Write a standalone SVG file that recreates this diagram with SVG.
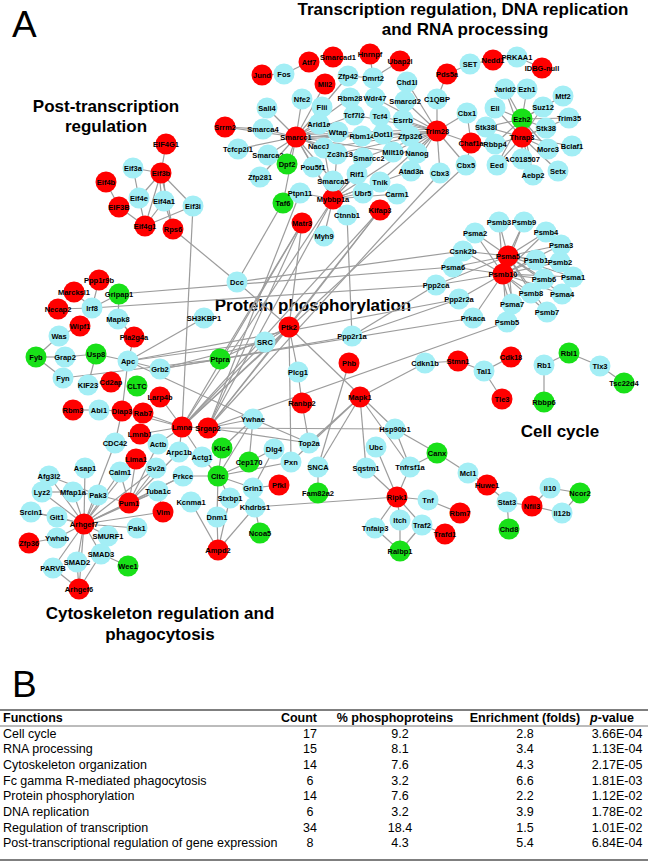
<svg xmlns="http://www.w3.org/2000/svg" width="650" height="862" viewBox="0 0 650 862">
<style>
.e line{stroke:#9c9c9c;stroke-width:1.2}
.nd circle{r:10.5px}
.r circle{fill:#ff0000}
.c circle{fill:#a3eef5}
.g circle{fill:#18e018}
.nd text{font-family:"Liberation Sans",Arial,sans-serif;font-weight:bold;font-size:7.5px;text-anchor:middle;fill:#000}
.sec{font-family:"Liberation Sans",Arial,sans-serif;font-weight:bold;font-size:17px;text-anchor:middle;fill:#000}
.big{font-family:"Liberation Sans",Arial,sans-serif;font-size:37px;fill:#000}
.tb{font-family:"Liberation Sans",Arial,sans-serif;font-size:12.5px;fill:#000}
.th{font-family:"Liberation Sans",Arial,sans-serif;font-size:12.5px;font-weight:bold;fill:#000}
.m{text-anchor:middle}
</style>
<rect width="650" height="862" fill="#fff"/>
<text class="big" x="12" y="37">A</text>
<text class="sec" x="463" y="15">Transcription regulation, DNA replication</text>
<text class="sec" x="465" y="35">and RNA processing</text>
<text class="sec" x="106" y="112">Post-transcription</text>
<text class="sec" x="106" y="132">regulation</text>
<text class="sec" x="313" y="311">Protein phosphorylation</text>
<text class="sec" x="560" y="437">Cell cycle</text>
<text class="sec" x="160" y="619">Cytoskeleton regulation and</text>
<text class="sec" x="160" y="640">phagocytosis</text>

<g id="connectors" class="e">
<line x1="166" y1="144" x2="161" y2="173"/><line x1="133" y1="168" x2="161" y2="173"/><line x1="133" y1="168" x2="139" y2="198"/><line x1="106" y1="182" x2="119" y2="207"/><line x1="161" y1="173" x2="139" y2="198"/><line x1="159" y1="173" x2="162" y2="201"/><line x1="163" y1="173" x2="166" y2="201"/><line x1="161" y1="173" x2="193" y2="206"/><line x1="161" y1="173" x2="145" y2="226"/><line x1="161" y1="173" x2="173" y2="229"/><line x1="139" y1="198" x2="145" y2="226"/><line x1="164" y1="201" x2="145" y2="226"/><line x1="164" y1="201" x2="173" y2="229"/><line x1="119" y1="207" x2="145" y2="226"/><line x1="193" y1="206" x2="145" y2="226"/><line x1="173" y1="229" x2="237" y2="282"/><line x1="193" y1="206" x2="182" y2="427"/>
<line x1="92" y1="308" x2="99" y2="280"/><line x1="92" y1="308" x2="74" y2="292"/><line x1="92" y1="308" x2="58" y2="309"/><line x1="92" y1="308" x2="119" y2="294"/><line x1="119" y1="294" x2="118" y2="319"/><line x1="118" y1="319" x2="134" y2="337"/><line x1="134" y1="337" x2="128" y2="361"/><line x1="59" y1="336" x2="36" y2="357"/><line x1="59" y1="336" x2="80" y2="326"/><line x1="36" y1="357" x2="65" y2="357"/><line x1="36" y1="357" x2="63" y2="378"/><line x1="65" y1="357" x2="96" y2="354"/><line x1="96" y1="354" x2="88" y2="385"/><line x1="96" y1="354" x2="128" y2="361"/><line x1="128" y1="361" x2="160" y2="369"/><line x1="128" y1="361" x2="204" y2="318"/><line x1="128" y1="361" x2="122" y2="411"/><line x1="128" y1="361" x2="253" y2="419"/><line x1="128" y1="361" x2="265" y2="342"/><line x1="160" y1="369" x2="220" y2="359"/><line x1="160" y1="369" x2="265" y2="342"/><line x1="63" y1="378" x2="220" y2="359"/><line x1="119" y1="294" x2="453" y2="267"/><line x1="92" y1="308" x2="436" y2="285"/><line x1="128" y1="361" x2="459" y2="299"/><line x1="160" y1="369" x2="473" y2="318"/><line x1="237" y1="282" x2="463" y2="251"/><line x1="237" y1="282" x2="289" y2="327"/><line x1="282" y1="204" x2="237" y2="282"/><line x1="160" y1="397" x2="182" y2="427"/>
<line x1="182" y1="427" x2="302" y2="223"/><line x1="182" y1="427" x2="333" y2="199"/><line x1="182" y1="427" x2="380" y2="210"/><line x1="182" y1="427" x2="289" y2="327"/><line x1="182" y1="427" x2="265" y2="342"/><line x1="208" y1="428" x2="302" y2="223"/><line x1="208" y1="428" x2="333" y2="199"/><line x1="208" y1="428" x2="289" y2="327"/><line x1="208" y1="428" x2="380" y2="210"/><line x1="208" y1="428" x2="300" y2="193"/><line x1="220" y1="359" x2="289" y2="327"/><line x1="220" y1="359" x2="302" y2="223"/><line x1="220" y1="359" x2="352" y2="336"/><line x1="265" y1="342" x2="289" y2="327"/><line x1="289" y1="327" x2="298" y2="372"/><line x1="289" y1="327" x2="291" y2="462"/><line x1="289" y1="327" x2="395" y2="429"/><line x1="302" y1="223" x2="289" y2="327"/><line x1="324" y1="236" x2="333" y2="199"/><line x1="347" y1="215" x2="352" y2="336"/><line x1="347" y1="215" x2="333" y2="199"/><line x1="380" y1="210" x2="289" y2="327"/><line x1="352" y1="336" x2="436" y2="285"/><line x1="352" y1="336" x2="459" y2="299"/><line x1="349" y1="363" x2="318" y2="467"/><line x1="208" y1="428" x2="507" y2="322"/><line x1="360" y1="397" x2="425" y2="363"/><line x1="302" y1="403" x2="309" y2="443"/><line x1="298" y1="372" x2="302" y2="403"/><line x1="440" y1="173" x2="208" y2="428"/><line x1="466" y1="165" x2="182" y2="427"/>
<line x1="253" y1="419" x2="208" y2="428"/><line x1="253" y1="419" x2="222" y2="448"/><line x1="253" y1="419" x2="249" y2="462"/><line x1="253" y1="419" x2="218" y2="476"/><line x1="253" y1="419" x2="309" y2="443"/><line x1="208" y1="428" x2="395" y2="429"/><line x1="208" y1="428" x2="309" y2="443"/><line x1="249" y1="462" x2="274" y2="449"/><line x1="218" y1="476" x2="291" y2="462"/><line x1="218" y1="476" x2="253" y2="488"/><line x1="218" y1="476" x2="222" y2="448"/><line x1="218" y1="476" x2="249" y2="462"/><line x1="218" y1="476" x2="202" y2="457"/><line x1="218" y1="476" x2="183" y2="476"/><line x1="218" y1="476" x2="217" y2="517"/><line x1="218" y1="476" x2="230" y2="498"/><line x1="253" y1="488" x2="279" y2="485"/><line x1="274" y1="449" x2="253" y2="488"/><line x1="291" y1="462" x2="360" y2="397"/><line x1="309" y1="443" x2="360" y2="397"/><line x1="318" y1="467" x2="360" y2="397"/><line x1="318" y1="467" x2="318" y2="493"/><line x1="255" y1="507" x2="397" y2="497"/><line x1="255" y1="507" x2="260" y2="533"/><line x1="255" y1="507" x2="218" y2="550"/><line x1="230" y1="498" x2="218" y2="550"/><line x1="217" y1="517" x2="218" y2="550"/><line x1="191" y1="502" x2="218" y2="550"/><line x1="360" y1="397" x2="366" y2="468"/><line x1="360" y1="397" x2="410" y2="467"/><line x1="395" y1="429" x2="410" y2="467"/><line x1="395" y1="429" x2="437" y2="453"/><line x1="376" y1="447" x2="397" y2="497"/><line x1="366" y1="468" x2="397" y2="497"/><line x1="410" y1="467" x2="397" y2="497"/><line x1="397" y1="497" x2="428" y2="500"/><line x1="397" y1="497" x2="400" y2="520"/><line x1="397" y1="497" x2="375" y2="528"/><line x1="397" y1="497" x2="422" y2="525"/><line x1="375" y1="528" x2="400" y2="551"/><line x1="400" y1="520" x2="400" y2="551"/><line x1="422" y1="525" x2="400" y2="551"/><line x1="428" y1="500" x2="460" y2="513"/><line x1="422" y1="525" x2="445" y2="534"/><line x1="410" y1="467" x2="437" y2="453"/><line x1="437" y1="453" x2="468" y2="473"/><line x1="468" y1="473" x2="487" y2="485"/><line x1="487" y1="485" x2="507" y2="502"/><line x1="507" y1="502" x2="532" y2="506"/><line x1="507" y1="502" x2="509" y2="529"/><line x1="532" y1="506" x2="550" y2="488"/><line x1="532" y1="506" x2="562" y2="513"/><line x1="550" y1="488" x2="580" y2="493"/><line x1="562" y1="513" x2="580" y2="493"/>
<line x1="425" y1="363" x2="458" y2="361"/><line x1="458" y1="361" x2="484" y2="371"/><line x1="484" y1="371" x2="511" y2="357"/><line x1="484" y1="371" x2="502" y2="399"/><line x1="544" y1="365" x2="569" y2="353"/><line x1="569" y1="353" x2="600" y2="366"/><line x1="600" y1="366" x2="624" y2="383"/><line x1="544" y1="365" x2="544" y2="402"/>
<line x1="508" y1="256" x2="499" y2="222"/><line x1="508" y1="256" x2="524" y2="222"/><line x1="508" y1="256" x2="475" y2="233"/><line x1="508" y1="256" x2="546" y2="232"/><line x1="508" y1="256" x2="561" y2="245"/><line x1="508" y1="256" x2="463" y2="251"/><line x1="508" y1="256" x2="536" y2="260"/><line x1="508" y1="256" x2="560" y2="262"/><line x1="508" y1="256" x2="453" y2="267"/><line x1="508" y1="256" x2="544" y2="279"/><line x1="508" y1="256" x2="573" y2="277"/><line x1="508" y1="256" x2="436" y2="285"/><line x1="508" y1="256" x2="531" y2="293"/><line x1="508" y1="256" x2="562" y2="294"/><line x1="508" y1="256" x2="512" y2="304"/><line x1="508" y1="256" x2="547" y2="312"/>
<line x1="503" y1="274" x2="499" y2="222"/><line x1="503" y1="274" x2="524" y2="222"/><line x1="503" y1="274" x2="475" y2="233"/><line x1="503" y1="274" x2="546" y2="232"/><line x1="503" y1="274" x2="561" y2="245"/><line x1="503" y1="274" x2="463" y2="251"/><line x1="503" y1="274" x2="536" y2="260"/><line x1="503" y1="274" x2="560" y2="262"/><line x1="503" y1="274" x2="453" y2="267"/><line x1="503" y1="274" x2="544" y2="279"/><line x1="503" y1="274" x2="573" y2="277"/><line x1="503" y1="274" x2="436" y2="285"/><line x1="503" y1="274" x2="459" y2="299"/><line x1="503" y1="274" x2="531" y2="293"/><line x1="503" y1="274" x2="562" y2="294"/><line x1="501" y1="274" x2="510" y2="304"/><line x1="505" y1="274" x2="514" y2="304"/><line x1="503" y1="274" x2="547" y2="312"/><line x1="503" y1="274" x2="473" y2="318"/><line x1="503" y1="274" x2="507" y2="322"/>
<line x1="262" y1="75" x2="284" y2="74"/><line x1="284" y1="74" x2="309" y2="62"/><line x1="370" y1="54" x2="373" y2="78"/><line x1="400" y1="61" x2="373" y2="78"/><line x1="348" y1="76" x2="373" y2="78"/><line x1="373" y1="78" x2="375" y2="98"/><line x1="348" y1="76" x2="322" y2="107"/><line x1="325" y1="84" x2="296" y2="137"/><line x1="302" y1="99" x2="296" y2="137"/><line x1="267" y1="108" x2="296" y2="137"/><line x1="225" y1="127" x2="263" y2="129"/><line x1="225" y1="127" x2="296" y2="137"/><line x1="263" y1="129" x2="296" y2="137"/><line x1="238" y1="149" x2="296" y2="137"/><line x1="268" y1="155" x2="296" y2="137"/><line x1="260" y1="177" x2="296" y2="137"/><line x1="287" y1="164" x2="296" y2="137"/><line x1="313" y1="167" x2="296" y2="137"/><line x1="324" y1="148" x2="296" y2="137"/><line x1="337" y1="154" x2="296" y2="137"/><line x1="319" y1="124" x2="296" y2="137"/><line x1="322" y1="107" x2="296" y2="137"/><line x1="338" y1="130" x2="296" y2="135"/><line x1="338" y1="134" x2="296" y2="139"/><line x1="362" y1="136" x2="296" y2="137"/><line x1="363" y1="158" x2="296" y2="137"/><line x1="333" y1="181" x2="296" y2="137"/><line x1="350" y1="98" x2="296" y2="137"/><line x1="354" y1="115" x2="296" y2="137"/><line x1="383" y1="134" x2="296" y2="137"/><line x1="393" y1="152" x2="296" y2="137"/><line x1="296" y1="135" x2="437" y2="129"/><line x1="296" y1="139" x2="437" y2="133"/><line x1="296" y1="137" x2="333" y2="199"/><line x1="296" y1="137" x2="283" y2="203"/>
<line x1="437" y1="131" x2="437" y2="99"/><line x1="437" y1="131" x2="467" y2="113"/><line x1="437" y1="131" x2="471" y2="143"/><line x1="437" y1="131" x2="466" y2="165"/><line x1="437" y1="131" x2="440" y2="173"/><line x1="437" y1="131" x2="410" y2="136"/><line x1="437" y1="131" x2="417" y2="153"/><line x1="437" y1="131" x2="403" y2="120"/><line x1="437" y1="131" x2="405" y2="101"/><line x1="437" y1="131" x2="407" y2="82"/><line x1="437" y1="131" x2="393" y2="152"/><line x1="437" y1="131" x2="411" y2="171"/><line x1="437" y1="131" x2="383" y2="134"/><line x1="437" y1="131" x2="380" y2="116"/><line x1="437" y1="131" x2="375" y2="98"/><line x1="437" y1="131" x2="362" y2="136"/><line x1="437" y1="131" x2="363" y2="158"/><line x1="437" y1="131" x2="354" y2="115"/><line x1="437" y1="131" x2="337" y2="154"/><line x1="437" y1="131" x2="324" y2="148"/><line x1="437" y1="131" x2="333" y2="199"/><line x1="437" y1="131" x2="380" y2="182"/>
<line x1="333" y1="199" x2="333" y2="181"/><line x1="333" y1="199" x2="357" y2="174"/><line x1="333" y1="199" x2="363" y2="193"/><line x1="333" y1="199" x2="337" y2="154"/><line x1="333" y1="199" x2="324" y2="148"/><line x1="333" y1="199" x2="313" y2="167"/><line x1="333" y1="199" x2="380" y2="182"/><line x1="333" y1="199" x2="397" y2="194"/><line x1="333" y1="199" x2="363" y2="158"/><line x1="333" y1="199" x2="300" y2="193"/><line x1="333" y1="199" x2="411" y2="171"/>
<line x1="437" y1="99" x2="447" y2="74"/><line x1="447" y1="74" x2="470" y2="64"/><line x1="470" y1="64" x2="493" y2="60"/><line x1="493" y1="60" x2="517" y2="57"/><line x1="517" y1="57" x2="542" y2="68"/><line x1="467" y1="113" x2="471" y2="143"/><line x1="471" y1="143" x2="495" y2="144"/><line x1="471" y1="143" x2="466" y2="165"/>
<line x1="522" y1="119" x2="505" y2="89"/><line x1="522" y1="119" x2="527" y2="89"/><line x1="522" y1="119" x2="563" y2="96"/><line x1="522" y1="119" x2="495" y2="108"/><line x1="522" y1="119" x2="543" y2="107"/><line x1="522" y1="119" x2="569" y2="118"/><line x1="522" y1="119" x2="486" y2="127"/><line x1="522" y1="119" x2="546" y2="128"/><line x1="522" y1="119" x2="495" y2="144"/><line x1="522" y1="119" x2="497" y2="165"/><line x1="522" y1="119" x2="522" y2="159"/><line x1="522" y1="119" x2="548" y2="149"/><line x1="522" y1="119" x2="533" y2="175"/>
<line x1="522" y1="137" x2="486" y2="127"/><line x1="522" y1="137" x2="546" y2="128"/><line x1="522" y1="137" x2="572" y2="146"/><line x1="522" y1="137" x2="558" y2="171"/><line x1="522" y1="137" x2="548" y2="149"/><line x1="522" y1="137" x2="533" y2="175"/><line x1="522" y1="137" x2="497" y2="165"/><line x1="522" y1="137" x2="495" y2="144"/><line x1="522" y1="137" x2="543" y2="107"/><line x1="522" y1="137" x2="505" y2="89"/><line x1="522" y1="137" x2="495" y2="108"/><line x1="522" y1="137" x2="569" y2="118"/>
<line x1="73" y1="410" x2="99" y2="410"/><line x1="99" y1="410" x2="122" y2="411"/><line x1="122" y1="411" x2="143" y2="413"/><line x1="122" y1="411" x2="115" y2="443"/><line x1="143" y1="413" x2="182" y2="427"/><line x1="140" y1="434" x2="182" y2="427"/><line x1="182" y1="427" x2="158" y2="444"/><line x1="182" y1="427" x2="179" y2="452"/><line x1="182" y1="427" x2="208" y2="428"/><line x1="182" y1="427" x2="202" y2="457"/><line x1="122" y1="411" x2="182" y2="427"/>
<line x1="115" y1="443" x2="84" y2="524"/><line x1="179" y1="452" x2="202" y2="457"/><line x1="179" y1="452" x2="129" y2="503"/><line x1="183" y1="476" x2="129" y2="503"/><line x1="156" y1="468" x2="129" y2="503"/><line x1="120" y1="472" x2="129" y2="503"/><line x1="158" y1="491" x2="129" y2="503"/><line x1="136" y1="459" x2="129" y2="503"/><line x1="158" y1="444" x2="129" y2="503"/><line x1="98" y1="495" x2="129" y2="503"/>
<line x1="84" y1="524" x2="49" y2="476"/><line x1="84" y1="524" x2="42" y2="492"/><line x1="84" y1="524" x2="73" y2="492"/><line x1="84" y1="524" x2="98" y2="495"/><line x1="84" y1="524" x2="85" y2="468"/><line x1="84" y1="524" x2="31" y2="512"/><line x1="84" y1="524" x2="57" y2="517"/><line x1="84" y1="524" x2="57" y2="538"/><line x1="84" y1="524" x2="101" y2="554"/><line x1="84" y1="524" x2="77" y2="562"/><line x1="84" y1="524" x2="53" y2="568"/><line x1="84" y1="524" x2="79" y2="589"/><line x1="84" y1="524" x2="108" y2="536"/><line x1="84" y1="524" x2="137" y2="528"/><line x1="84" y1="524" x2="129" y2="503"/><line x1="84" y1="524" x2="158" y2="491"/><line x1="84" y1="524" x2="120" y2="472"/><line x1="84" y1="524" x2="163" y2="512"/><line x1="84" y1="524" x2="156" y2="468"/><line x1="84" y1="524" x2="183" y2="476"/><line x1="84" y1="524" x2="136" y2="459"/>
<line x1="29" y1="543" x2="57" y2="538"/><line x1="101" y1="554" x2="128" y2="566"/><line x1="101" y1="554" x2="79" y2="589"/><line x1="77" y1="562" x2="79" y2="589"/><line x1="53" y1="568" x2="79" y2="589"/><line x1="42" y1="492" x2="73" y2="492"/><line x1="49" y1="476" x2="98" y2="495"/><line x1="31" y1="512" x2="57" y2="517"/><line x1="73" y1="492" x2="98" y2="495"/><line x1="158" y1="491" x2="163" y2="512"/>
</g>

<g id="nodes">
<g id="n-EIF4G1" class="nd r"><circle cx="166" cy="144"/><text x="166" y="146.7">EIF4G1</text></g>
<g id="n-Eif3a" class="nd c"><circle cx="133" cy="168"/><text x="133" y="170.7">Eif3a</text></g>
<g id="n-Eif3b" class="nd r"><circle cx="161" cy="173"/><text x="161" y="175.7">Eif3b</text></g>
<g id="n-Eif4b" class="nd r"><circle cx="106" cy="182"/><text x="106" y="184.7">Eif4b</text></g>
<g id="n-Eif4e" class="nd c"><circle cx="139" cy="198"/><text x="139" y="200.7">Eif4e</text></g>
<g id="n-Eif4a1" class="nd c"><circle cx="164" cy="201"/><text x="164" y="203.7">Eif4a1</text></g>
<g id="n-Eif3i" class="nd c"><circle cx="193" cy="206"/><text x="193" y="208.7">Eif3i</text></g>
<g id="n-EIF3B" class="nd r"><circle cx="119" cy="207"/><text x="119" y="209.7">EIF3B</text></g>
<g id="n-Eif4g1" class="nd r"><circle cx="145" cy="226"/><text x="145" y="228.7">Eif4g1</text></g>
<g id="n-Rps6" class="nd r"><circle cx="173" cy="229"/><text x="173" y="231.7">Rps6</text></g>
<g id="n-Ppp1r9b" class="nd r"><circle cx="99" cy="280"/><text x="99" y="282.7">Ppp1r9b</text></g>
<g id="n-Marcksl1" class="nd r"><circle cx="74" cy="292"/><text x="74" y="294.7">Marcksl1</text></g>
<g id="n-Gripap1" class="nd g"><circle cx="119" cy="294"/><text x="119" y="296.7">Gripap1</text></g>
<g id="n-Necap2" class="nd r"><circle cx="58" cy="309"/><text x="58" y="311.7">Necap2</text></g>
<g id="n-Irf8" class="nd c"><circle cx="92" cy="308"/><text x="92" y="310.7">Irf8</text></g>
<g id="n-Mapk8" class="nd c"><circle cx="118" cy="319"/><text x="118" y="321.7">Mapk8</text></g>
<g id="n-Wipf1" class="nd r"><circle cx="80" cy="326"/><text x="80" y="328.7">Wipf1</text></g>
<g id="n-Was" class="nd c"><circle cx="59" cy="336"/><text x="59" y="338.7">Was</text></g>
<g id="n-Pla2g4a" class="nd r"><circle cx="134" cy="337"/><text x="134" y="339.7">Pla2g4a</text></g>
<g id="n-Fyb" class="nd g"><circle cx="36" cy="357"/><text x="36" y="359.7">Fyb</text></g>
<g id="n-Grap2" class="nd c"><circle cx="65" cy="357"/><text x="65" y="359.7">Grap2</text></g>
<g id="n-Usp8" class="nd g"><circle cx="96" cy="354"/><text x="96" y="356.7">Usp8</text></g>
<g id="n-Apc" class="nd c"><circle cx="128" cy="361"/><text x="128" y="363.7">Apc</text></g>
<g id="n-Grb2" class="nd c"><circle cx="160" cy="369"/><text x="160" y="371.7">Grb2</text></g>
<g id="n-Fyn" class="nd c"><circle cx="63" cy="378"/><text x="63" y="380.7">Fyn</text></g>
<g id="n-KIF23" class="nd c"><circle cx="88" cy="385"/><text x="88" y="387.7">KIF23</text></g>
<g id="n-Cd2ap" class="nd r"><circle cx="111" cy="382"/><text x="111" y="384.7">Cd2ap</text></g>
<g id="n-CLTC" class="nd g"><circle cx="137" cy="386"/><text x="137" y="388.7">CLTC</text></g>
<g id="n-Larp4b" class="nd r"><circle cx="160" cy="397"/><text x="160" y="399.7">Larp4b</text></g>
<g id="n-SH3KBP1" class="nd c"><circle cx="204" cy="318"/><text x="204" y="320.7">SH3KBP1</text></g>
<g id="n-Rbm3" class="nd r"><circle cx="73" cy="410"/><text x="73" y="412.7">Rbm3</text></g>
<g id="n-Abi1" class="nd c"><circle cx="99" cy="410"/><text x="99" y="412.7">Abi1</text></g>
<g id="n-Diap3" class="nd r"><circle cx="122" cy="411"/><text x="122" y="413.7">Diap3</text></g>
<g id="n-Rab7" class="nd r"><circle cx="143" cy="413"/><text x="143" y="415.7">Rab7</text></g>
<g id="n-Lmnb1" class="nd r"><circle cx="140" cy="434"/><text x="140" y="436.7">Lmnb1</text></g>
<g id="n-Lmna" class="nd r"><circle cx="182" cy="427"/><text x="182" y="429.7">Lmna</text></g>
<g id="n-Srgap2" class="nd r"><circle cx="208" cy="428"/><text x="208" y="430.7">Srgap2</text></g>
<g id="n-CDC42" class="nd c"><circle cx="115" cy="443"/><text x="115" y="445.7">CDC42</text></g>
<g id="n-Actb" class="nd c"><circle cx="158" cy="444"/><text x="158" y="446.7">Actb</text></g>
<g id="n-Arpc1b" class="nd c"><circle cx="179" cy="452"/><text x="179" y="454.7">Arpc1b</text></g>
<g id="n-Actg1" class="nd c"><circle cx="202" cy="457"/><text x="202" y="459.7">Actg1</text></g>
<g id="n-Lima1" class="nd r"><circle cx="136" cy="459"/><text x="136" y="461.7">Lima1</text></g>
<g id="n-Sv2a" class="nd c"><circle cx="156" cy="468"/><text x="156" y="470.7">Sv2a</text></g>
<g id="n-Asap1" class="nd c"><circle cx="85" cy="468"/><text x="85" y="470.7">Asap1</text></g>
<g id="n-Afg3l2" class="nd c"><circle cx="49" cy="476"/><text x="49" y="478.7">Afg3l2</text></g>
<g id="n-Calm1" class="nd c"><circle cx="120" cy="472"/><text x="120" y="474.7">Calm1</text></g>
<g id="n-Prkce" class="nd c"><circle cx="183" cy="476"/><text x="183" y="478.7">Prkce</text></g>
<g id="n-Lyz2" class="nd c"><circle cx="42" cy="492"/><text x="42" y="494.7">Lyz2</text></g>
<g id="n-Mfap1a" class="nd c"><circle cx="73" cy="492"/><text x="73" y="494.7">Mfap1a</text></g>
<g id="n-Pak3" class="nd c"><circle cx="98" cy="495"/><text x="98" y="497.7">Pak3</text></g>
<g id="n-Tuba1c" class="nd c"><circle cx="158" cy="491"/><text x="158" y="493.7">Tuba1c</text></g>
<g id="n-Pum1" class="nd r"><circle cx="129" cy="503"/><text x="129" y="505.7">Pum1</text></g>
<g id="n-Kcnma1" class="nd c"><circle cx="191" cy="502"/><text x="191" y="504.7">Kcnma1</text></g>
<g id="n-Srcin1" class="nd c"><circle cx="31" cy="512"/><text x="31" y="514.7">Srcin1</text></g>
<g id="n-Vim" class="nd r"><circle cx="163" cy="512"/><text x="163" y="514.7">Vim</text></g>
<g id="n-Git1" class="nd c"><circle cx="57" cy="517"/><text x="57" y="519.7">Git1</text></g>
<g id="n-Arhgef7" class="nd r"><circle cx="84" cy="524"/><text x="84" y="526.7">Arhgef7</text></g>
<g id="n-Pak1" class="nd c"><circle cx="137" cy="528"/><text x="137" y="530.7">Pak1</text></g>
<g id="n-SMURF1" class="nd c"><circle cx="108" cy="536"/><text x="108" y="538.7">SMURF1</text></g>
<g id="n-Ywhab" class="nd c"><circle cx="57" cy="538"/><text x="57" y="540.7">Ywhab</text></g>
<g id="n-Zfp36" class="nd r"><circle cx="29" cy="543"/><text x="29" y="545.7">Zfp36</text></g>
<g id="n-SMAD3" class="nd c"><circle cx="101" cy="554"/><text x="101" y="556.7">SMAD3</text></g>
<g id="n-SMAD2" class="nd c"><circle cx="77" cy="562"/><text x="77" y="564.7">SMAD2</text></g>
<g id="n-Wee1" class="nd g"><circle cx="128" cy="566"/><text x="128" y="568.7">Wee1</text></g>
<g id="n-PARVB" class="nd c"><circle cx="53" cy="568"/><text x="53" y="570.7">PARVB</text></g>
<g id="n-Arhgef6" class="nd r"><circle cx="79" cy="589"/><text x="79" y="591.7">Arhgef6</text></g>
<g id="n-Klc4" class="nd g"><circle cx="222" cy="448"/><text x="222" y="450.7">Klc4</text></g>
<g id="n-Cltc" class="nd g"><circle cx="218" cy="476"/><text x="218" y="478.7">Cltc</text></g>
<g id="n-Dnm1" class="nd c"><circle cx="217" cy="517"/><text x="217" y="519.7">Dnm1</text></g>
<g id="n-Ampd2" class="nd r"><circle cx="218" cy="550"/><text x="218" y="552.7">Ampd2</text></g>
<g id="n-Ywhae" class="nd c"><circle cx="253" cy="419"/><text x="253" y="421.7">Ywhae</text></g>
<g id="n-Cep170" class="nd g"><circle cx="249" cy="462"/><text x="249" y="464.7">Cep170</text></g>
<g id="n-Dlg4" class="nd c"><circle cx="274" cy="449"/><text x="274" y="451.7">Dlg4</text></g>
<g id="n-Top2a" class="nd c"><circle cx="309" cy="443"/><text x="309" y="445.7">Top2a</text></g>
<g id="n-Pxn" class="nd c"><circle cx="291" cy="462"/><text x="291" y="464.7">Pxn</text></g>
<g id="n-SNCA" class="nd c"><circle cx="318" cy="467"/><text x="318" y="469.7">SNCA</text></g>
<g id="n-Grin1" class="nd c"><circle cx="253" cy="488"/><text x="253" y="490.7">Grin1</text></g>
<g id="n-Pfkl" class="nd r"><circle cx="279" cy="485"/><text x="279" y="487.7">Pfkl</text></g>
<g id="n-Fam82a2" class="nd g"><circle cx="318" cy="493"/><text x="318" y="495.7">Fam82a2</text></g>
<g id="n-Stxbp1" class="nd c"><circle cx="230" cy="498"/><text x="230" y="500.7">Stxbp1</text></g>
<g id="n-Khdrbs1" class="nd c"><circle cx="255" cy="507"/><text x="255" y="509.7">Khdrbs1</text></g>
<g id="n-Ncoa5" class="nd g"><circle cx="260" cy="533"/><text x="260" y="535.7">Ncoa5</text></g>
<g id="n-Ranbp2" class="nd r"><circle cx="302" cy="403"/><text x="302" y="405.7">Ranbp2</text></g>
<g id="n-Hsp90b1" class="nd c"><circle cx="395" cy="429"/><text x="395" y="431.7">Hsp90b1</text></g>
<g id="n-Ubc" class="nd c"><circle cx="376" cy="447"/><text x="376" y="449.7">Ubc</text></g>
<g id="n-Sqstm1" class="nd c"><circle cx="366" cy="468"/><text x="366" y="470.7">Sqstm1</text></g>
<g id="n-Tnfrsf1a" class="nd c"><circle cx="410" cy="467"/><text x="410" y="469.7">Tnfrsf1a</text></g>
<g id="n-Ripk1" class="nd r"><circle cx="397" cy="497"/><text x="397" y="499.7">Ripk1</text></g>
<g id="n-Tnf" class="nd c"><circle cx="428" cy="500"/><text x="428" y="502.7">Tnf</text></g>
<g id="n-Itch" class="nd c"><circle cx="400" cy="520"/><text x="400" y="522.7">Itch</text></g>
<g id="n-Tnfaip3" class="nd c"><circle cx="375" cy="528"/><text x="375" y="530.7">Tnfaip3</text></g>
<g id="n-Traf2" class="nd c"><circle cx="422" cy="525"/><text x="422" y="527.7">Traf2</text></g>
<g id="n-Ralbp1" class="nd g"><circle cx="400" cy="551"/><text x="400" y="553.7">Ralbp1</text></g>
<g id="n-Rbm7" class="nd r"><circle cx="460" cy="513"/><text x="460" y="515.7">Rbm7</text></g>
<g id="n-Trafd1" class="nd r"><circle cx="445" cy="534"/><text x="445" y="536.7">Trafd1</text></g>
<g id="n-Canx" class="nd g"><circle cx="437" cy="453"/><text x="437" y="455.7">Canx</text></g>
<g id="n-Mcl1" class="nd c"><circle cx="468" cy="473"/><text x="468" y="475.7">Mcl1</text></g>
<g id="n-Huwe1" class="nd r"><circle cx="487" cy="485"/><text x="487" y="487.7">Huwe1</text></g>
<g id="n-Stat3" class="nd c"><circle cx="507" cy="502"/><text x="507" y="504.7">Stat3</text></g>
<g id="n-Nfil3" class="nd r"><circle cx="532" cy="506"/><text x="532" y="508.7">Nfil3</text></g>
<g id="n-Il10" class="nd c"><circle cx="550" cy="488"/><text x="550" y="490.7">Il10</text></g>
<g id="n-Ncor2" class="nd g"><circle cx="580" cy="493"/><text x="580" y="495.7">Ncor2</text></g>
<g id="n-Il12b" class="nd c"><circle cx="562" cy="513"/><text x="562" y="515.7">Il12b</text></g>
<g id="n-Chd8" class="nd g"><circle cx="509" cy="529"/><text x="509" y="531.7">Chd8</text></g>
<g id="n-Dcc" class="nd c"><circle cx="237" cy="282"/><text x="237" y="284.7">Dcc</text></g>
<g id="n-Ptk2" class="nd r"><circle cx="289" cy="327"/><text x="289" y="329.7">Ptk2</text></g>
<g id="n-SRC" class="nd c"><circle cx="265" cy="342"/><text x="265" y="344.7">SRC</text></g>
<g id="n-Ptpra" class="nd g"><circle cx="220" cy="359"/><text x="220" y="361.7">Ptpra</text></g>
<g id="n-Ppp2r1a" class="nd c"><circle cx="352" cy="336"/><text x="352" y="338.7">Ppp2r1a</text></g>
<g id="n-Phb" class="nd r"><circle cx="349" cy="363"/><text x="349" y="365.7">Phb</text></g>
<g id="n-Plcg1" class="nd c"><circle cx="298" cy="372"/><text x="298" y="374.7">Plcg1</text></g>
<g id="n-Mapk1" class="nd r"><circle cx="360" cy="397"/><text x="360" y="399.7">Mapk1</text></g>
<g id="n-Matr3" class="nd r"><circle cx="302" cy="223"/><text x="302" y="225.7">Matr3</text></g>
<g id="n-Myh9" class="nd c"><circle cx="324" cy="236"/><text x="324" y="238.7">Myh9</text></g>
<g id="n-Ctnnb1" class="nd c"><circle cx="347" cy="215"/><text x="347" y="217.7">Ctnnb1</text></g>
<g id="n-Kifap3" class="nd r"><circle cx="380" cy="210"/><text x="380" y="212.7">Kifap3</text></g>
<g id="n-Taf6" class="nd g"><circle cx="283" cy="203"/><text x="283" y="205.7">Taf6</text></g>
<g id="n-Ptpn11" class="nd c"><circle cx="300" cy="193"/><text x="300" y="195.7">Ptpn11</text></g>
<g id="n-Mybbp1a" class="nd r"><circle cx="333" cy="199"/><text x="333" y="201.7">Mybbp1a</text></g>
<g id="n-Psmb3" class="nd c"><circle cx="499" cy="222"/><text x="499" y="224.7">Psmb3</text></g>
<g id="n-Psmb9" class="nd c"><circle cx="524" cy="222"/><text x="524" y="224.7">Psmb9</text></g>
<g id="n-Psma2" class="nd c"><circle cx="475" cy="233"/><text x="475" y="235.7">Psma2</text></g>
<g id="n-Psmb4" class="nd c"><circle cx="546" cy="232"/><text x="546" y="234.7">Psmb4</text></g>
<g id="n-Psma3" class="nd c"><circle cx="561" cy="245"/><text x="561" y="247.7">Psma3</text></g>
<g id="n-Csnk2b" class="nd c"><circle cx="463" cy="251"/><text x="463" y="253.7">Csnk2b</text></g>
<g id="n-Psmb2" class="nd c"><circle cx="560" cy="262"/><text x="560" y="264.7">Psmb2</text></g>
<g id="n-Psma1" class="nd c"><circle cx="573" cy="277"/><text x="573" y="279.7">Psma1</text></g>
<g id="n-Psmb1" class="nd c"><circle cx="536" cy="260"/><text x="536" y="262.7">Psmb1</text></g>
<g id="n-Psma6" class="nd c"><circle cx="453" cy="267"/><text x="453" y="269.7">Psma6</text></g>
<g id="n-Psma5" class="nd r"><circle cx="508" cy="256"/><text x="508" y="258.7">Psma5</text></g>
<g id="n-Psmb6" class="nd c"><circle cx="544" cy="279"/><text x="544" y="281.7">Psmb6</text></g>
<g id="n-Psmb10" class="nd r"><circle cx="503" cy="274"/><text x="503" y="276.7">Psmb10</text></g>
<g id="n-Ppp2ca" class="nd c"><circle cx="436" cy="285"/><text x="436" y="287.7">Ppp2ca</text></g>
<g id="n-Ppp2r2a" class="nd c"><circle cx="459" cy="299"/><text x="459" y="301.7">Ppp2r2a</text></g>
<g id="n-Psma4" class="nd c"><circle cx="562" cy="294"/><text x="562" y="296.7">Psma4</text></g>
<g id="n-Psmb8" class="nd c"><circle cx="531" cy="293"/><text x="531" y="295.7">Psmb8</text></g>
<g id="n-Psmb7" class="nd c"><circle cx="547" cy="312"/><text x="547" y="314.7">Psmb7</text></g>
<g id="n-Psma7" class="nd c"><circle cx="512" cy="304"/><text x="512" y="306.7">Psma7</text></g>
<g id="n-Prkaca" class="nd c"><circle cx="473" cy="318"/><text x="473" y="320.7">Prkaca</text></g>
<g id="n-Psmb5" class="nd c"><circle cx="507" cy="322"/><text x="507" y="324.7">Psmb5</text></g>
<g id="n-Cdkn1b" class="nd c"><circle cx="425" cy="363"/><text x="425" y="365.7">Cdkn1b</text></g>
<g id="n-Stmn1" class="nd r"><circle cx="458" cy="361"/><text x="458" y="363.7">Stmn1</text></g>
<g id="n-Tal1" class="nd c"><circle cx="484" cy="371"/><text x="484" y="373.7">Tal1</text></g>
<g id="n-Cdk18" class="nd r"><circle cx="511" cy="357"/><text x="511" y="359.7">Cdk18</text></g>
<g id="n-Tle3" class="nd r"><circle cx="502" cy="399"/><text x="502" y="401.7">Tle3</text></g>
<g id="n-Rb1" class="nd c"><circle cx="544" cy="365"/><text x="544" y="367.7">Rb1</text></g>
<g id="n-Rbl1" class="nd g"><circle cx="569" cy="353"/><text x="569" y="355.7">Rbl1</text></g>
<g id="n-Tlx3" class="nd c"><circle cx="600" cy="366"/><text x="600" y="368.7">Tlx3</text></g>
<g id="n-Tsc22d4" class="nd g"><circle cx="624" cy="383"/><text x="624" y="385.7">Tsc22d4</text></g>
<g id="n-Rbbp6" class="nd g"><circle cx="544" cy="402"/><text x="544" y="404.7">Rbbp6</text></g>
<g id="n-Smarcad1" class="nd r"><circle cx="333" cy="57"/><text x="338" y="59.7">Smarcad1</text></g>
<g id="n-Hnrnpf" class="nd r"><circle cx="370" cy="54"/><text x="370" y="56.7">Hnrnpf</text></g>
<g id="n-Atf7" class="nd r"><circle cx="309" cy="62"/><text x="309" y="64.7">Atf7</text></g>
<g id="n-Ubap2l" class="nd r"><circle cx="400" cy="61"/><text x="400" y="63.7">Ubap2l</text></g>
<g id="n-Jund" class="nd r"><circle cx="262" cy="75"/><text x="262" y="77.7">Jund</text></g>
<g id="n-Fos" class="nd c"><circle cx="284" cy="74"/><text x="284" y="76.7">Fos</text></g>
<g id="n-Zfp42" class="nd c"><circle cx="348" cy="76"/><text x="348" y="78.7">Zfp42</text></g>
<g id="n-Dmrt2" class="nd c"><circle cx="373" cy="78"/><text x="373" y="80.7">Dmrt2</text></g>
<g id="n-Mll2" class="nd r"><circle cx="325" cy="84"/><text x="325" y="86.7">Mll2</text></g>
<g id="n-Chd1l" class="nd c"><circle cx="407" cy="82"/><text x="407" y="84.7">Chd1l</text></g>
<g id="n-Nfe2" class="nd c"><circle cx="302" cy="99"/><text x="302" y="101.7">Nfe2</text></g>
<g id="n-Rbm28" class="nd c"><circle cx="350" cy="98"/><text x="350" y="100.7">Rbm28</text></g>
<g id="n-Wdr47" class="nd c"><circle cx="375" cy="98"/><text x="375" y="100.7">Wdr47</text></g>
<g id="n-Smarcd2" class="nd c"><circle cx="405" cy="101"/><text x="405" y="103.7">Smarcd2</text></g>
<g id="n-Sall4" class="nd c"><circle cx="267" cy="108"/><text x="267" y="110.7">Sall4</text></g>
<g id="n-Flii" class="nd c"><circle cx="322" cy="107"/><text x="322" y="109.7">Flii</text></g>
<g id="n-Tcf7l2" class="nd c"><circle cx="354" cy="115"/><text x="354" y="117.7">Tcf7l2</text></g>
<g id="n-Tcf4" class="nd c"><circle cx="380" cy="116"/><text x="380" y="118.7">Tcf4</text></g>
<g id="n-Esrrb" class="nd c"><circle cx="403" cy="120"/><text x="403" y="122.7">Esrrb</text></g>
<g id="n-Arid1a" class="nd c"><circle cx="319" cy="124"/><text x="319" y="126.7">Arid1a</text></g>
<g id="n-Srrm2" class="nd r"><circle cx="225" cy="127"/><text x="225" y="129.7">Srrm2</text></g>
<g id="n-Smarca4" class="nd c"><circle cx="263" cy="129"/><text x="263" y="131.7">Smarca4</text></g>
<g id="n-Wtap" class="nd c"><circle cx="338" cy="132"/><text x="338" y="134.7">Wtap</text></g>
<g id="n-Rbm14" class="nd c"><circle cx="362" cy="136"/><text x="362" y="138.7">Rbm14</text></g>
<g id="n-Dot1l" class="nd c"><circle cx="383" cy="134"/><text x="383" y="136.7">Dot1l</text></g>
<g id="n-Zfp326" class="nd c"><circle cx="410" cy="136"/><text x="410" y="138.7">Zfp326</text></g>
<g id="n-Tcfcp2l1" class="nd c"><circle cx="238" cy="149"/><text x="238" y="151.7">Tcfcp2l1</text></g>
<g id="n-Smarca2" class="nd c"><circle cx="268" cy="155"/><text x="268" y="157.7">Smarca2</text></g>
<g id="n-Smarcc1" class="nd r"><circle cx="296" cy="137"/><text x="296" y="139.7">Smarcc1</text></g>
<g id="n-Nacc1" class="nd c"><circle cx="324" cy="148"/><text x="319" y="148.5">Nacc1</text></g>
<g id="n-Zc3h13" class="nd c"><circle cx="337" cy="154"/><text x="340" y="157">Zc3h13</text></g>
<g id="n-Smarcc2" class="nd c"><circle cx="363" cy="158"/><text x="369" y="161">Smarcc2</text></g>
<g id="n-Mllt10" class="nd c"><circle cx="393" cy="152"/><text x="393" y="154.7">Mllt10</text></g>
<g id="n-Nanog" class="nd c"><circle cx="417" cy="153"/><text x="417" y="155.7">Nanog</text></g>
<g id="n-Dpf2" class="nd g"><circle cx="287" cy="164"/><text x="287" y="166.7">Dpf2</text></g>
<g id="n-Pou5f1" class="nd c"><circle cx="313" cy="167"/><text x="313" y="169.7">Pou5f1</text></g>
<g id="n-Atad3a" class="nd c"><circle cx="411" cy="171"/><text x="411" y="173.7">Atad3a</text></g>
<g id="n-Zfp281" class="nd c"><circle cx="260" cy="177"/><text x="260" y="179.7">Zfp281</text></g>
<g id="n-Rif1" class="nd c"><circle cx="357" cy="174"/><text x="357" y="176.7">Rif1</text></g>
<g id="n-Smarca5" class="nd c"><circle cx="333" cy="181"/><text x="333" y="183.7">Smarca5</text></g>
<g id="n-Tnik" class="nd c"><circle cx="380" cy="182"/><text x="380" y="184.7">Tnik</text></g>
<g id="n-Ubr5" class="nd c"><circle cx="363" cy="193"/><text x="363" y="195.7">Ubr5</text></g>
<g id="n-Carm1" class="nd c"><circle cx="397" cy="194"/><text x="397" y="196.7">Carm1</text></g>
<g id="n-SET" class="nd c"><circle cx="470" cy="64"/><text x="470" y="66.7">SET</text></g>
<g id="n-Nedd1" class="nd r"><circle cx="493" cy="60"/><text x="493" y="62.7">Nedd1</text></g>
<g id="n-PRKAA1" class="nd c"><circle cx="517" cy="57"/><text x="517" y="59.7">PRKAA1</text></g>
<g id="n-IDBG-null" class="nd r"><circle cx="542" cy="68"/><text x="542" y="70.7">IDBG-null</text></g>
<g id="n-Pds5a" class="nd r"><circle cx="447" cy="74"/><text x="447" y="76.7">Pds5a</text></g>
<g id="n-C1QBP" class="nd c"><circle cx="437" cy="99"/><text x="437" y="101.7">C1QBP</text></g>
<g id="n-Jarid2" class="nd c"><circle cx="505" cy="89"/><text x="505" y="91.7">Jarid2</text></g>
<g id="n-Ezh1" class="nd c"><circle cx="527" cy="89"/><text x="527" y="91.7">Ezh1</text></g>
<g id="n-Mtf2" class="nd c"><circle cx="563" cy="96"/><text x="563" y="98.7">Mtf2</text></g>
<g id="n-Cbx1" class="nd c"><circle cx="467" cy="113"/><text x="467" y="115.7">Cbx1</text></g>
<g id="n-Ell" class="nd c"><circle cx="495" cy="108"/><text x="495" y="110.7">Ell</text></g>
<g id="n-Suz12" class="nd c"><circle cx="543" cy="107"/><text x="543" y="109.7">Suz12</text></g>
<g id="n-Trim35" class="nd c"><circle cx="569" cy="118"/><text x="569" y="120.7">Trim35</text></g>
<g id="n-Stk38l" class="nd c"><circle cx="486" cy="127"/><text x="486" y="129.7">Stk38l</text></g>
<g id="n-Stk38" class="nd c"><circle cx="546" cy="128"/><text x="546" y="130.7">Stk38</text></g>
<g id="n-Ezh2" class="nd g"><circle cx="522" cy="119"/><text x="522" y="121.7">Ezh2</text></g>
<g id="n-Trim28" class="nd r"><circle cx="437" cy="131"/><text x="437" y="133.7">Trim28</text></g>
<g id="n-Thrap3" class="nd r"><circle cx="522" cy="137"/><text x="522" y="139.7">Thrap3</text></g>
<g id="n-Chaf1a" class="nd r"><circle cx="471" cy="143"/><text x="471" y="145.7">Chaf1a</text></g>
<g id="n-Rbbp4" class="nd c"><circle cx="495" cy="144"/><text x="495" y="146.7">Rbbp4</text></g>
<g id="n-Bclaf1" class="nd c"><circle cx="572" cy="146"/><text x="572" y="148.7">Bclaf1</text></g>
<g id="n-Morc3" class="nd c"><circle cx="548" cy="149"/><text x="548" y="151.7">Morc3</text></g>
<g id="n-AC018507" class="nd c"><circle cx="522" cy="159"/><text x="522" y="161.7">AC018507</text></g>
<g id="n-Eed" class="nd c"><circle cx="497" cy="165"/><text x="497" y="167.7">Eed</text></g>
<g id="n-Cbx5" class="nd c"><circle cx="466" cy="165"/><text x="466" y="167.7">Cbx5</text></g>
<g id="n-Cbx3" class="nd c"><circle cx="440" cy="173"/><text x="440" y="175.7">Cbx3</text></g>
<g id="n-Aebp2" class="nd c"><circle cx="533" cy="175"/><text x="533" y="177.7">Aebp2</text></g>
<g id="n-Setx" class="nd c"><circle cx="558" cy="171"/><text x="558" y="173.7">Setx</text></g>
</g>

<g id="table">
<text class="big" x="12" y="697">B</text>
<line x1="0" y1="710" x2="648" y2="710" stroke="#555" stroke-width="1.3"/>
<line x1="0" y1="726" x2="648" y2="726" stroke="#555" stroke-width="0.8"/>
<line x1="0" y1="860" x2="648" y2="860" stroke="#555" stroke-width="1.3"/>
<text class="th" x="3" y="722">Functions</text>
<text class="th m" x="299" y="722">Count</text>
<text class="th m" x="395" y="722">% phosphoproteins</text>
<text class="th m" x="525" y="722">Enrichment (folds)</text>
<text class="th m" x="612" y="722"><tspan font-style="italic">p</tspan>-value</text>
<g class="tb">
<text x="3" y="737.5">Cell cycle</text>
<text x="3" y="753.2">RNA processing</text>
<text x="3" y="768.9">Cytoskeleton organization</text>
<text x="3" y="784.6">Fc gamma R-mediated phagocytosis</text>
<text x="3" y="800.3">Protein phosphorylation</text>
<text x="3" y="816">DNA replication</text>
<text x="3" y="831.7">Regulation of transcription</text>
<text x="3" y="847.4">Post-transcriptional regulation of gene expression</text>
</g>
<g class="tb m">
<text x="310" y="737.5">17</text><text x="400" y="737.5">9.2</text><text x="525" y="737.5">2.8</text><text x="617" y="737.5">3.66E-04</text>
<text x="310" y="753.2">15</text><text x="400" y="753.2">8.1</text><text x="525" y="753.2">3.4</text><text x="617" y="753.2">1.13E-04</text>
<text x="310" y="768.9">14</text><text x="400" y="768.9">7.6</text><text x="525" y="768.9">4.3</text><text x="617" y="768.9">2.17E-05</text>
<text x="310" y="784.6">6</text><text x="400" y="784.6">3.2</text><text x="525" y="784.6">6.6</text><text x="617" y="784.6">1.81E-03</text>
<text x="310" y="800.3">14</text><text x="400" y="800.3">7.6</text><text x="525" y="800.3">2.2</text><text x="617" y="800.3">1.12E-02</text>
<text x="310" y="816">6</text><text x="400" y="816">3.2</text><text x="525" y="816">3.9</text><text x="617" y="816">1.78E-02</text>
<text x="310" y="831.7">34</text><text x="400" y="831.7">18.4</text><text x="525" y="831.7">1.5</text><text x="617" y="831.7">1.01E-02</text>
<text x="310" y="847.4">8</text><text x="400" y="847.4">4.3</text><text x="525" y="847.4">5.4</text><text x="617" y="847.4">6.84E-04</text>
</g>
</g>
</svg>
